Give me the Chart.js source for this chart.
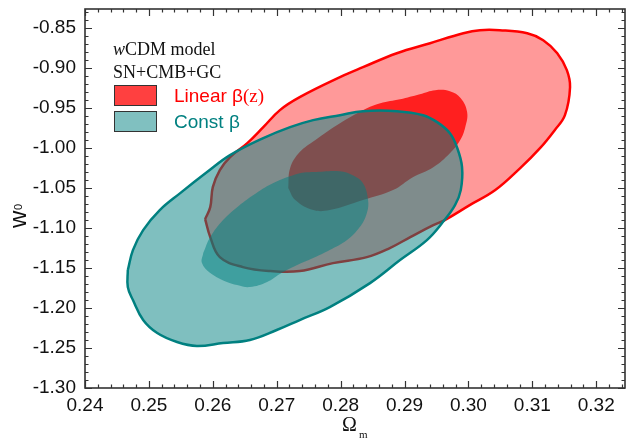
<!DOCTYPE html>
<html>
<head>
<meta charset="utf-8">
<script src="https://cdn.jsdelivr.net/npm/chart.js@4.4.1/dist/chart.umd.min.js"></script>
<style>
html, body { margin: 0; padding: 0; background: #fff; }
</style>
</head>
<body>
<canvas id="myChart" width="629" height="442"></canvas>
<script>
// ------------------------------------------------------------
// Contour data (Omega_m, w0)
// ------------------------------------------------------------
// Linear beta(z), 95% region
const linOuterOm = [0.2588, 0.2596, 0.2600, 0.2611, 0.2627, 0.2654, 0.2679, 0.2705, 0.2736, 0.2799,
    0.2835, 0.2888, 0.2940, 0.2992, 0.3018, 0.3049, 0.3092, 0.3117, 0.3139,
    0.3154, 0.3159, 0.3151, 0.3135, 0.3112, 0.3081, 0.3042, 0.3002, 0.2963,
    0.2945, 0.2909, 0.2877, 0.2841, 0.2788, 0.2736, 0.2690, 0.2647, 0.2611, 0.2596]
const linOuterW0 = [-1.0888, -1.0738, -1.0488, -1.0275, -1.0113, -0.9938, -0.9738, -0.9525, -0.9363, -0.9113,
    -0.8988, -0.8813, -0.8688, -0.8563, -0.8525, -0.8525, -0.8563, -0.8650, -0.8813,
    -0.9025, -0.9238, -0.9588, -0.9775, -1.0000, -1.0250, -1.0525, -1.0713, -1.0900,
    -1.0963, -1.1113, -1.1250, -1.1363, -1.1438, -1.1538, -1.1538, -1.1488, -1.1363, -1.1113]

// Linear beta(z), 68% region
const linInnerOm = [0.2718, 0.2721, 0.2736, 0.2760, 0.2799, 0.2835, 0.2862, 0.2893, 0.2924, 0.2948,
    0.2971, 0.2988, 0.2998, 0.2995, 0.2987, 0.2971, 0.2945, 0.2913, 0.2882, 0.2835,
    0.2783, 0.2757, 0.2729]
const linInnerW0 = [-1.0500, -1.0250, -1.0050, -0.9900, -0.9688, -0.9525, -0.9438, -0.9388, -0.9325, -0.9275,
    -0.9288, -0.9375, -0.9550, -0.9738, -0.9900, -1.0063, -1.0238, -1.0363, -1.0525, -1.0650,
    -1.0775, -1.0775, -1.0650]

// Const beta, 95% region
const constOuterOm = [0.2467, 0.2475, 0.2491, 0.2517, 0.2549, 0.2591, 0.2627, 0.2679, 0.2721, 0.2757,
    0.2799, 0.2835, 0.2888, 0.2929, 0.2951, 0.2971, 0.2982, 0.2990, 0.2988, 0.2979,
    0.2960, 0.2935, 0.2893, 0.2846, 0.2783, 0.2736, 0.2700, 0.2658, 0.2616, 0.2575,
    0.2544, 0.2513, 0.2491, 0.2475, 0.2467]
const constOuterW0 = [-1.1525, -1.1275, -1.1025, -1.0775, -1.0563, -1.0300, -1.0088, -0.9875, -0.9738, -0.9650,
    -0.9588, -0.9538, -0.9538, -0.9588, -0.9675, -0.9813, -0.9988, -1.0238, -1.0525, -1.0713,
    -1.0925, -1.1150, -1.1400, -1.1688, -1.1988, -1.2150, -1.2275, -1.2400, -1.2438, -1.2475,
    -1.2425, -1.2313, -1.2150, -1.1900, -1.1738]

// Const beta, 68% region
const constInnerOm = [0.2585, 0.2596, 0.2616, 0.2638, 0.2663, 0.2694, 0.2736, 0.2757, 0.2799, 0.2819,
    0.2835, 0.2843, 0.2841, 0.2830, 0.2810, 0.2783, 0.2757, 0.2732, 0.2705, 0.2685,
    0.2658, 0.2638, 0.2622, 0.2596, 0.2583]
const constInnerW0 = [-1.1313, -1.1113, -1.0900, -1.0738, -1.0588, -1.0438, -1.0313, -1.0300, -1.0288, -1.0338,
    -1.0438, -1.0650, -1.0813, -1.0988, -1.1150, -1.1275, -1.1375, -1.1463, -1.1575, -1.1675,
    -1.1738, -1.1713, -1.1675, -1.1563, -1.1438]

// axis tick labels
const omTicks = [0.24, 0.25, 0.26, 0.27, 0.28, 0.29, 0.30, 0.31, 0.32]
const w0Ticks = [-1.30, -1.25, -1.20, -1.15, -1.10, -1.05, -1.00, -0.95, -0.90, -0.85]

// legend entries
const legendLabels = ['Linear β', 'Const β']
const legendColors = ['#ff0000', '#008080']

// build a closed polygon from two arrays
function closedPath(xs, ys) {
    const pts = xs.map((v, i) => ({ x: v, y: ys[i] }))
    pts.push({ x: xs[0], y: ys[0] })
    return pts
}

const data = {
    datasets: [
        {
            label: 'Const β 68%',
            data: closedPath(constInnerOm, constInnerW0),
            backgroundColor: 'rgba(0,128,128,0.5)',
            borderColor: 'rgba(0,0,0,0)',
            fill: 'shape',
            order: 1
        },
        {
            label: 'Const β 95%',
            data: closedPath(constOuterOm, constOuterW0),
            backgroundColor: 'rgba(0,128,128,0.5)',
            borderColor: '#008080',
            borderWidth: 2.5,
            fill: 'shape',
            order: 2
        },
        {
            label: 'Linear β(z) 68%',
            data: closedPath(linInnerOm, linInnerW0),
            backgroundColor: 'rgba(255,0,0,0.8)',
            borderColor: 'rgba(0,0,0,0)',
            fill: 'shape',
            order: 3
        },
        {
            label: 'Linear β(z) 95%',
            data: closedPath(linOuterOm, linOuterW0),
            backgroundColor: 'rgba(255,0,0,0.4)',
            borderColor: '#ff0000',
            borderWidth: 2.5,
            fill: 'shape',
            order: 4
        }
    ]
}

// frame, inward ticks, legend and axis titles
const overlay = {
    id: 'overlay',
    afterDraw(chart) {
        const { ctx, chartArea: a, scales: { x, y } } = chart
        ctx.save()

        // frame
        ctx.strokeStyle = '#333'
        ctx.lineWidth = 1.6
        ctx.strokeRect(a.left, a.top, a.right - a.left, a.bottom - a.top)

        // inward ticks on all four sides
        ctx.lineWidth = 1.2
        ctx.beginPath()
        for (let i = 0; i <= 45; i++) {
            const v = 0.24 + i * 0.002
            if (v > x.max) break
            const px = Math.round(x.getPixelForValue(v)) + 0.5
            const len = i % 5 === 0 ? 7 : 3.5
            ctx.moveTo(px, a.bottom); ctx.lineTo(px, a.bottom - len)
            ctx.moveTo(px, a.top); ctx.lineTo(px, a.top + len)
        }
        for (let i = 0; i <= 50; i++) {
            const v = -1.30 + i * 0.01
            if (v > y.max) break
            const py = Math.round(y.getPixelForValue(v)) + 0.5
            const len = i % 5 === 0 ? 7 : 3.5
            ctx.moveTo(a.left, py); ctx.lineTo(a.left + len, py)
            ctx.moveTo(a.right, py); ctx.lineTo(a.right - len, py)
        }
        ctx.stroke()

        // legend header
        ctx.fillStyle = '#111'
        ctx.textBaseline = 'alphabetic'
        ctx.textAlign = 'left'
        ctx.font = 'italic 18px "Liberation Serif"'
        ctx.fillText('w', 113, 55)
        const ww = ctx.measureText('w').width
        ctx.font = '18px "Liberation Serif"'
        ctx.fillText('CDM model', 113 + ww, 55)
        ctx.fillText('SN+CMB+GC', 113, 78)

        // legend boxes
        const boxFill = ['rgb(255,64,64)', 'rgb(128,192,192)']
        const boxY = [85, 111]
        for (let i = 0; i < 2; i++) {
            ctx.fillStyle = boxFill[i]
            ctx.fillRect(114, boxY[i], 42, 20)
            ctx.strokeStyle = '#333'
            ctx.lineWidth = 1
            ctx.strokeRect(114.5, boxY[i] + 0.5, 42, 20)
            ctx.fillStyle = legendColors[i]
            ctx.font = '19px "Liberation Sans"'
            ctx.fillText(legendLabels[i], 174, boxY[i] + 17)
        }
        ctx.fillStyle = legendColors[0]
        ctx.font = '19px "Liberation Sans"'
        const lw = ctx.measureText(legendLabels[0]).width
        ctx.font = '19px "Liberation Serif"'
        ctx.fillText('(z)', 174 + lw, 102)

        // x title: Omega_m
        ctx.fillStyle = '#111'
        ctx.font = '20px "Liberation Serif"'
        ctx.fillText('Ω', 342, 431)
        ctx.font = '11px "Liberation Serif"'
        ctx.fillText('m', 359, 438)

        // y title: w_0
        ctx.translate(26, 228)
        ctx.rotate(-Math.PI / 2)
        ctx.font = '24px "Liberation Sans"'
        ctx.fillText('w', 0, 0)
        ctx.font = '11px "Liberation Sans"'
        ctx.fillText('0', 18, -4)

        ctx.restore()
    }
}

const tickFont = { family: 'Liberation Sans', size: 19 }

const config = {
    type: 'scatter',
    data: data,
    options: {
        responsive: false,
        animation: false,
        showLine: true,
        layout: { padding: { top: 9, right: 4, left: 0, bottom: 0 } },
        elements: {
            point: { radius: 0, hoverRadius: 0 },
            line: { tension: 0.4 }
        },
        plugins: {
            legend: { display: false },
            tooltip: { enabled: false }
        },
        scales: {
            x: {
                type: 'linear',
                min: 0.24,
                max: 0.3245,
                grid: { display: false },
                border: { display: false },
                ticks: {
                    font: tickFont,
                    color: '#111',
                    padding: -2,
                    maxRotation: 0,
                    callback: (v) => v.toFixed(2)
                },
                afterBuildTicks: (s) => { s.ticks = omTicks.map(v => ({ value: v })) },
                afterFit: (s) => { s.height = 54; s.paddingLeft = 0; s.paddingRight = 0 }
            },
            y: {
                type: 'linear',
                min: -1.30,
                max: -0.826,
                grid: { display: false },
                border: { display: false },
                ticks: {
                    font: tickFont,
                    color: '#111',
                    padding: 1,
                    callback: (v) => v.toFixed(2)
                },
                afterBuildTicks: (s) => { s.ticks = w0Ticks.map(v => ({ value: v })) },
                afterFit: (s) => { s.width = 85; s.paddingTop = 0; s.paddingBottom = 0 }
            }
        }
    },
    plugins: [overlay]
}

const myChart = new Chart(document.getElementById('myChart'), config)
</script>
</body>
</html>
